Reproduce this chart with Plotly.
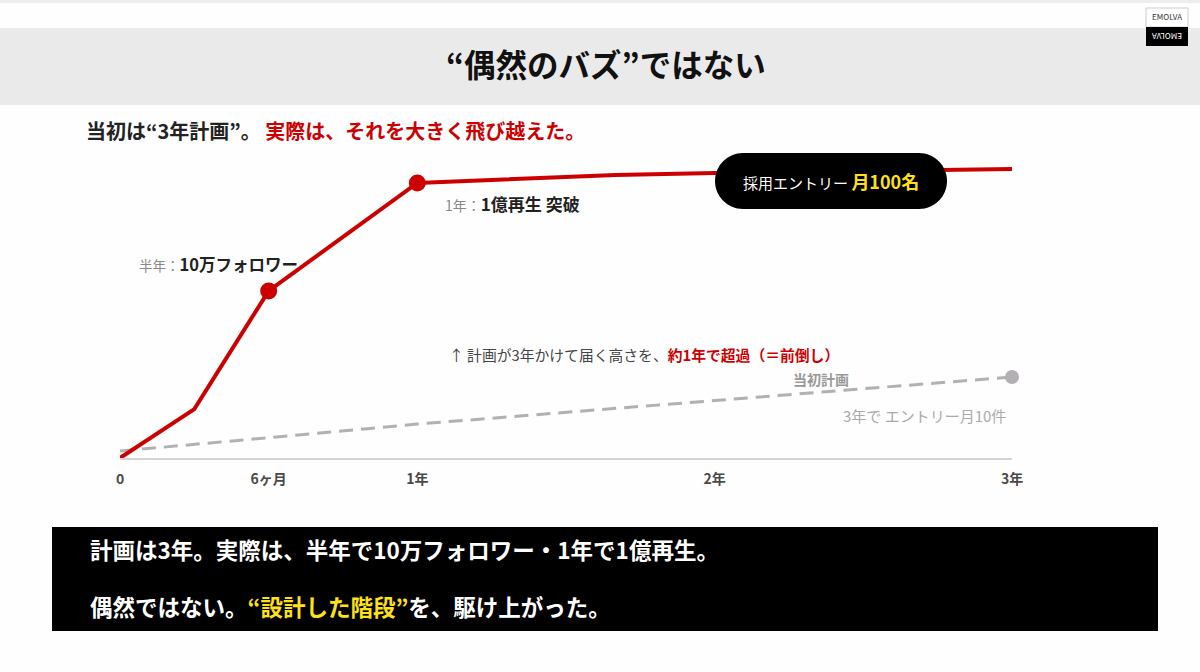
import plotly.graph_objects as go

# ---- data ----
actual_months = [0, 3, 6, 12, 20, 24, 36]
actual_index = [0, 16.3, 55.7, 91.7, 94.3, 95.0, 96.3]
milestone_months = [6, 12]
milestone_index = [55.7, 91.7]
plan_months = [0, 12, 36]
plan_index = [2.3, 11.3, 27.0]
tick_vals = [0, 6, 12, 24, 36]
tick_text = ["0", "6ヶ月", "1年", "2年", "3年"]

FONT = "Noto Sans CJK JP"
RED = "#cc0000"
GRAY = "#b3b0b3"

L, R, T, B = 120, 188, 150, 214
W, H = 1200, 672
PW = W - L - R
PH = H - T - B


def px(x):
    return (x - L) / PW


def py(y):
    return (T + PH - y) / PH


fig = go.Figure()
fig.add_trace(go.Scatter(x=plan_months, y=plan_index, mode="lines",
                         line=dict(color=GRAY, width=3, dash="14px,8px"),
                         cliponaxis=False, hoverinfo="skip"))
fig.add_trace(go.Scatter(x=[plan_months[-1]], y=[plan_index[-1]], mode="markers",
                         marker=dict(color=GRAY, size=14), cliponaxis=False, hoverinfo="skip"))
fig.add_trace(go.Scatter(x=actual_months, y=actual_index, mode="lines",
                         line=dict(color=RED, width=4),
                         cliponaxis=False, hoverinfo="skip"))
fig.add_trace(go.Scatter(x=milestone_months, y=milestone_index, mode="markers",
                         marker=dict(color=RED, size=17), cliponaxis=False, hoverinfo="skip"))

shapes = []
# header band
shapes.append(dict(type="rect", xref="paper", yref="paper", x0=px(0), x1=px(W),
                   y0=py(0), y1=py(3), fillcolor="#eeeeee", line_width=0, layer="below"))
shapes.append(dict(type="rect", xref="paper", yref="paper", x0=px(0), x1=px(W),
                   y0=py(28), y1=py(105), fillcolor="#ebeaeb", line_width=0, layer="below"))
# logo
shapes.append(dict(type="rect", xref="paper", yref="paper", x0=px(1146), x1=px(1188),
                   y0=py(8), y1=py(27), fillcolor="#ffffff", line=dict(color="#cccccc", width=1)))
shapes.append(dict(type="rect", xref="paper", yref="paper", x0=px(1146), x1=px(1188),
                   y0=py(27), y1=py(46), fillcolor="#000000", line_width=0))


# badge (pill)
def pill(x0, y0, x1, y1, r):
    k = 0.5523 * r
    pts = [
        ("M", [(x0 + r, y0)]),
        ("L", [(x1 - r, y0)]),
        ("C", [(x1 - r + k, y0), (x1, y0 + r - k), (x1, y0 + r)]),
        ("L", [(x1, y1 - r)]),
        ("C", [(x1, y1 - r + k), (x1 - r + k, y1), (x1 - r, y1)]),
        ("L", [(x0 + r, y1)]),
        ("C", [(x0 + r - k, y1), (x0, y1 - r + k), (x0, y1 - r)]),
        ("L", [(x0, y0 + r)]),
        ("C", [(x0, y0 + r - k), (x0 + r - k, y0), (x0 + r, y0)]),
    ]
    s = ""
    for cmd, ps in pts:
        s += cmd + " " + " ".join(f"{px(a):.5f},{py(b):.5f}" for a, b in ps) + " "
    return s + "Z"


shapes.append(dict(type="path", xref="paper", yref="paper", path=pill(715, 153, 947, 209, 28),
                   fillcolor="#000000", line_width=0, layer="above"))
# bottom box
shapes.append(dict(type="rect", xref="paper", yref="paper", x0=px(52), x1=px(1158),
                   y0=py(527), y1=py(631), fillcolor="#000000", line_width=0, layer="above"))

ann = []


def text(x, y, t, size, color="#222", xanchor="left", angle=0):
    ann.append(dict(xref="paper", yref="paper", x=px(x), y=py(y), text=t, showarrow=False,
                    xanchor=xanchor, yanchor="middle", textangle=angle,
                    font=dict(family=FONT, size=size, color=color)))


text(606, 63, "<b>“偶然のバズ”ではない</b>", 31.5, "#111111", "center")
text(1167, 17, "EMOLVA", 8, "#333333", "center")
text(1167, 37, "EMOLVA", 8, "#ffffff", "center", 180)
text(84, 131, "<b>当初は“3年計画”。 <span style='color:#cc0000'>実際は、それを大きく飛び越えた。</span></b>", 20)
text(137, 264, "<span style='color:#888888;font-size:13.5px'>半年：</span><b>10万フォロワー</b>", 16.5, "#222222")
text(443, 203, "<span style='color:#888888;font-size:14px'>1年：</span><b>1億再生 突破</b>", 17, "#222222")
text(831, 181, "採用エントリー <b><span style='color:#ffe11a;font-size:18px'>月100名</span></b>", 15, "#ffffff", "center")
text(447, 354, "↑ 計画が3年かけて届く高さを、<b><span style='color:#cc0000'>約1年で超過（＝前倒し）</span></b>", 14.8, "#444444")
text(821, 379, "<b>当初計画</b>", 14, "#999999", "center")
text(1008, 415, "3年で エントリー月10件", 15, "#aaaaaa", "right")
text(88, 549, "<b>計画は3年。実際は、半年で10万フォロワー・1年で1億再生。</b>", 22.5, "#ffffff")
text(88, 606, "<b>偶然ではない。<span style='color:#ffe11a'>“設計した階段”</span>を、駆け上がった。</b>", 22.5, "#ffffff")

fig.update_layout(
    width=W, height=H,
    margin=dict(l=L, r=R, t=T, b=B),
    paper_bgcolor="#fefefe", plot_bgcolor="rgba(0,0,0,0)",
    showlegend=False,
    shapes=shapes, annotations=ann,
    font=dict(family=FONT),
    xaxis=dict(range=[0, 36], tickvals=tick_vals, ticktext=tick_text, showgrid=False,
               zeroline=False, showline=True, linecolor="#d4d4d4", linewidth=2,
               ticks="", ticklabelstandoff=7,
               tickfont=dict(family=FONT, size=14, color="#4a4a4a", weight="bold"),
               fixedrange=True),
    yaxis=dict(range=[0, PH / 3], visible=False, fixedrange=True),
)

fig.write_html("out.html", config={"displayModeBar": False},
               post_script="document.body.style.margin='0';document.body.style.background='#fefefe';")
